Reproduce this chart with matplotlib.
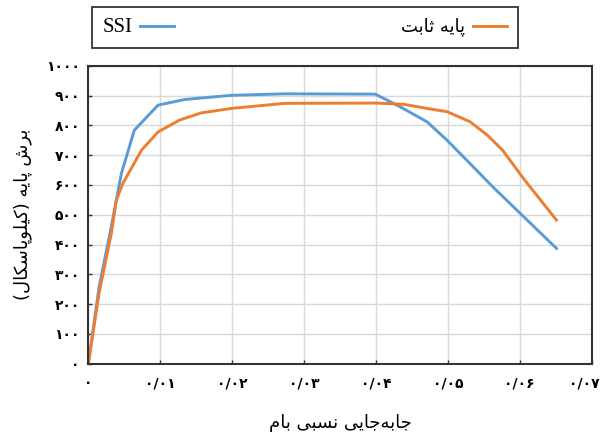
import matplotlib
matplotlib.use("Agg")
import matplotlib.pyplot as plt
from matplotlib.transforms import ScaledTranslation

# roof drift ratio vs base shear (kPa)
ssi_x = [0, 0.0015, 0.0032, 0.0046, 0.0064, 0.0097, 0.0134, 0.0199, 0.0273, 0.0399,
         0.0434, 0.0471, 0.0499, 0.0564, 0.0651]
ssi_y = [0, 258, 460, 639, 784, 868, 887, 901, 906, 905, 862, 812, 750, 590, 387]

fixed_x = [0, 0.0015, 0.0032, 0.0039, 0.0048, 0.0074, 0.0097, 0.0127, 0.0157, 0.0199,
           0.0273, 0.0400, 0.0438, 0.0471, 0.0499, 0.0531, 0.0555, 0.0576, 0.0605, 0.0651]
fixed_y = [0, 237, 437, 549, 605, 717, 778, 818, 842, 857,
           874, 875, 871, 857, 846, 812, 767, 717, 622, 482]

x_ticks = [0, 0.01, 0.02, 0.03, 0.04, 0.05, 0.06, 0.07]
x_tick_labels = ["۰", "۰/۰۱", "۰/۰۲", "۰/۰۳", "۰/۰۴", "۰/۰۵", "۰/۰۶", "۰/۰۷"]
y_ticks = [0, 100, 200, 300, 400, 500, 600, 700, 800, 900, 1000]
y_tick_labels = ["۰", "۱۰۰", "۲۰۰", "۳۰۰", "۴۰۰", "۵۰۰", "۶۰۰", "۷۰۰", "۸۰۰", "۹۰۰", "۱۰۰۰"]

label_ssi = "SSI"
label_fixed = "پایه ثابت"
x_title = "جابه\u200cجایی نسبی بام"
y_title = "برش پایه (کیلوپاسکال)"

# matplotlib does no Arabic shaping: map to presentation forms (iso, fin, ini, med)
FORMS = {
    "ا": ("\uFE8D", "\uFE8E", None, None),
    "ر": ("\uFEAD", "\uFEAE", None, None),
    "و": ("\uFEED", "\uFEEE", None, None),
    "ب": ("\uFE8F", "\uFE90", "\uFE91", "\uFE92"),
    "پ": ("\uFB56", "\uFB57", "\uFB58", "\uFB59"),
    "ت": ("\uFE95", "\uFE96", "\uFE97", "\uFE98"),
    "ث": ("\uFE99", "\uFE9A", "\uFE9B", "\uFE9C"),
    "ج": ("\uFE9D", "\uFE9E", "\uFE9F", "\uFEA0"),
    "س": ("\uFEB1", "\uFEB2", "\uFEB3", "\uFEB4"),
    "ش": ("\uFEB5", "\uFEB6", "\uFEB7", "\uFEB8"),
    "ک": ("\uFB8E", "\uFB8F", "\uFB90", "\uFB91"),
    "ل": ("\uFEDD", "\uFEDE", "\uFEDF", "\uFEE0"),
    "م": ("\uFEE1", "\uFEE2", "\uFEE3", "\uFEE4"),
    "ن": ("\uFEE5", "\uFEE6", "\uFEE7", "\uFEE8"),
    "ه": ("\uFEE9", "\uFEEA", "\uFEEB", "\uFEEC"),
    "ی": ("\uFBFC", "\uFBFD", "\uFBFE", "\uFBFF"),
}


def fa(text):
    out = []
    for i, ch in enumerate(text):
        if ch not in FORMS:
            out.append(ch)
            continue
        prev = text[i - 1] if i > 0 else ""
        nxt = text[i + 1] if i + 1 < len(text) else ""
        iso, fin, ini, med = FORMS[ch]
        jp = prev in FORMS and FORMS[prev][2] is not None
        jn = ini is not None and nxt in FORMS
        out.append(med if jp and jn else fin if jp else ini if jn else iso)
    vis = "".join(c for c in reversed(out) if c != "\u200c")
    return vis.translate(str.maketrans("()", ")("))


plt.rcParams["font.family"] = ["DejaVu Sans"]

fig = plt.figure(figsize=(6.05, 4.36), dpi=100)
ax = fig.add_axes([0.146, 0.166, 0.832, 0.683])

ax.plot(ssi_x, ssi_y, color="#5b9bd5", lw=2.1, label=label_ssi)
ax.plot(fixed_x, fixed_y, color="#ed7d31", lw=2.1, label=fa(label_fixed))

ax.set_xlim(0, 0.07)
ax.set_ylim(0, 1000)
ax.set_xticks(x_ticks)
ax.set_xticklabels(x_tick_labels, fontsize=10, fontweight="bold")
ax.set_yticks(y_ticks)
ax.set_yticklabels(y_tick_labels, fontsize=10, fontweight="bold")
ax.tick_params(axis="both", direction="in", length=3, width=1, color="#333333")
ax.tick_params(axis="x", pad=9)
ax.tick_params(axis="y", pad=6)
ax.grid(True, color="#d9d9d9", linewidth=1)
ax.set_axisbelow(True)
for sp in ax.spines.values():
    sp.set_color("#333333")
    sp.set_linewidth(1.5)

# last x label sits a little left so it stays inside the picture
last = ax.get_xticklabels()[-1]
last.set_transform(last.get_transform() + ScaledTranslation(-7 / 100, 0, fig.dpi_scale_trans))

ax.set_xlabel(fa(x_title), fontsize=13, labelpad=17)
ax.set_ylabel(fa(y_title), fontsize=13, labelpad=10)

leg = fig.legend(loc="upper left", bbox_to_anchor=(91.7 / 605, 1 - 50 / 436, 426 / 605, 43 / 436),
                 mode="expand", ncol=2, markerfirst=False, fancybox=False, framealpha=1,
                 edgecolor="#333333", fontsize=13, handlelength=1.9, handletextpad=0.4,
                 borderpad=0.6, borderaxespad=0)
leg.get_frame().set_linewidth(1.3)
leg.get_texts()[0].set_fontfamily("Liberation Serif")
leg.get_texts()[0].set_fontsize(15)

fig.savefig("out.png", dpi=100)
